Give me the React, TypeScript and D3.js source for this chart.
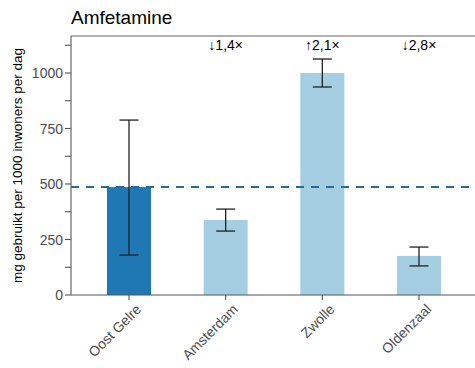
import React from "react";
import * as d3 from "d3";

const categories = ["Oost Gelre", "Amsterdam", "Zwolle", "Oldenzaal"];
const values = [486, 338, 1000, 176];
const lowers = [180, 288, 937, 131];
const uppers = [788, 387, 1063, 216];
const ratioLabels = ["", "↓1,4×", "↑2,1×", "↓2,8×"];
const referenceValue = 486;
const majorTicks = [0, 250, 500, 750, 1000];
const minorTicks = [125, 375, 625, 875, 1125];

const W = 475;
const H = 368;
const M = { left: 71, top: 36, bottom: 295 };

export default function App() {
  const y = d3.scaleLinear().domain([0, 1000]).range([M.bottom, 73]);
  const n = categories.length;
  const x = d3
    .scaleLinear()
    .domain([0.4, n + 0.6])
    .range([M.left, 477]);
  const barW = 44;
  const font = "Liberation Sans, Arial, sans-serif";
  const grey = "#4d4d4d";

  return (
    <svg
      width={W}
      height={H}
      style={{ position: "absolute", left: 0, top: 0, fontFamily: font }}
    >
      <rect width={W} height={H} fill="#fff" />
      <text x={71} y={24} fontSize={19} fill="#000">
        Amfetamine
      </text>

      {categories.map((c, i) => {
        const cx = x(i + 1);
        return (
          <rect
            key={c}
            x={cx - barW / 2}
            y={y(values[i])}
            width={barW}
            height={y(0) - y(values[i])}
            fill={i === 0 ? "#1f78b4" : "#a6cee3"}
          />
        );
      })}

      <line
        x1={M.left}
        x2={W}
        y1={y(referenceValue)}
        y2={y(referenceValue)}
        stroke="#2b6a98"
        strokeWidth={2}
        strokeDasharray="8 7"
      />

      {categories.map((c, i) => {
        const cx = x(i + 1);
        const hw = 9.5;
        return (
          <g key={c} stroke="#222" strokeWidth={1.3}>
            <line x1={cx} x2={cx} y1={y(uppers[i])} y2={y(lowers[i])} />
            <line x1={cx - hw} x2={cx + hw} y1={y(uppers[i])} y2={y(uppers[i])} />
            <line x1={cx - hw} x2={cx + hw} y1={y(lowers[i])} y2={y(lowers[i])} />
          </g>
        );
      })}

      {categories.map((c, i) =>
        ratioLabels[i] ? (
          <text
            key={c}
            x={x(i + 1)}
            y={50}
            fontSize={14}
            textAnchor="middle"
            fill="#000"
          >
            {ratioLabels[i]}
          </text>
        ) : null
      )}

      {/* panel edges */}
      <line x1={M.left} x2={W} y1={M.top} y2={M.top} stroke="#666" strokeWidth={1.2} />
      <line x1={M.left} x2={W} y1={M.bottom} y2={M.bottom} stroke="#555" strokeWidth={1.2} />
      <line x1={M.left} x2={M.left} y1={M.top} y2={M.bottom} stroke="#666" strokeWidth={1.2} />

      {majorTicks.map((t) => (
        <g key={t}>
          <line x1={M.left - 6} x2={M.left} y1={y(t)} y2={y(t)} stroke="#555" strokeWidth={1.1} />
          <text
            x={M.left - 8}
            y={y(t)}
            dy="0.36em"
            fontSize={14}
            textAnchor="end"
            fill={grey}
          >
            {t}
          </text>
        </g>
      ))}
      {minorTicks.map((t) => (
        <line key={t} x1={M.left - 6} x2={M.left} y1={y(t)} y2={y(t)} stroke="#555" strokeWidth={1.1} />
      ))}

      {categories.map((c, i) => {
        const cx = x(i + 1);
        return (
          <g key={c}>
            <line x1={cx} x2={cx} y1={M.bottom} y2={M.bottom + 5} stroke="#555" strokeWidth={1.1} />
            <text
              transform={`translate(${cx + 6},${M.bottom + 8}) rotate(-45)`}
              fontSize={14}
              textAnchor="end"
              dy="0.72em"
              fill={grey}
            >
              {c}
            </text>
          </g>
        );
      })}

      <text
        transform={`translate(22,${(M.top + M.bottom) / 2}) rotate(-90)`}
        fontSize={13.5}
        textAnchor="middle"
        fill="#000"
      >
        mg gebruikt per 1000 inwoners per dag
      </text>
    </svg>
  );
}
